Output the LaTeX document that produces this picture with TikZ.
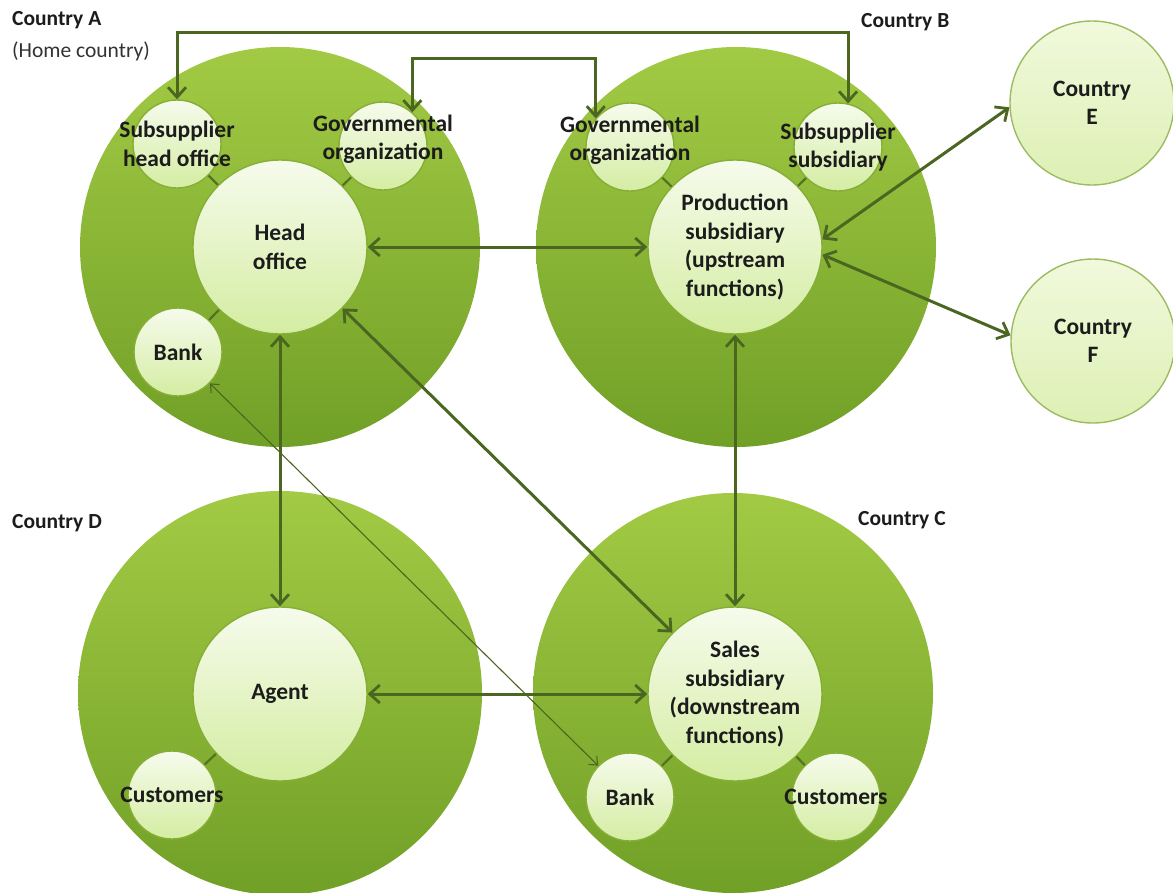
\documentclass[tikz,border=0pt]{standalone}
\usepackage{fontspec}
\setmainfont{Carlito}
\usetikzlibrary{arrows.meta}
\definecolor{bigtop}{HTML}{A2CA44}
\definecolor{bigbot}{HTML}{71A027}
\definecolor{intop}{HTML}{F6FBEC}
\definecolor{inbot}{HTML}{D4EDA2}
\definecolor{inborder}{HTML}{86AE36}
\definecolor{arrowc}{HTML}{4B6621}
\definecolor{txtc}{HTML}{1C1C1C}
\definecolor{outtop}{HTML}{F1F9DC}
\definecolor{outbot}{HTML}{DDF0B4}
\definecolor{outborder}{HTML}{9DBB62}
\tikzset{
  x=1pt, y=-1pt,
  country/.style={circle, inner sep=0pt, top color=bigtop, bottom color=bigbot, draw=none},
  inner/.style={circle, inner sep=0pt, top color=intop, bottom color=inbot, draw=inborder, line width=1.4pt},
  outer/.style={circle, inner sep=0pt, top color=outtop, bottom color=outbot, draw=outborder, line width=1.4pt},
  txt/.style={align=center, text=txtc, font=\bfseries\fontsize{23.5}{28.5}\selectfont},
  ctry/.style={anchor=west, text=txtc, font=\bfseries\fontsize{21.5}{25}\selectfont, inner sep=0pt},
  arr/.style={draw=arrowc, line width=3pt, {Straight Barb[length=10pt,width=18pt,line width=2.8pt]}-{Straight Barb[length=10pt,width=18pt,line width=2.8pt]}},
  thin/.style={draw=arrowc, line width=1.1pt, {Straight Barb[length=7pt,width=12pt,line width=1.1pt]}-{Straight Barb[length=7pt,width=12pt,line width=1.1pt]}},
  tick/.style={draw=arrowc!80!bigbot, line width=2.2pt},
}
\begin{document}
\begin{tikzpicture}
\useasboundingbox[fill=white] (0,0) rectangle (1173,892);
% country circles
\node[country, minimum size=400pt] (cA) at (280,247) {};
\node[country, minimum size=400pt] (cB) at (736,247) {};
\node[country, minimum size=404pt] (cD) at (280,693) {};
\node[country, minimum size=400pt] (cC) at (733,693) {};
% labels
\node[ctry] (lA) at (12,20) {Country A};
\node[ctry, font=\fontsize{21.5}{25}\selectfont, text=black!80] (lAh) at (12,51) {(Home country)};
\node[ctry] (lB) at (861,22) {Country B};
\node[ctry] (lD) at (12,523) {Country D};
\node[ctry] (lC) at (858,520) {Country C};
% inner circles A
\node[inner, minimum size=174pt] (ho) at (280,247) {};
\node[inner, minimum size=88pt] (sho) at (177,144) {};
\node[inner, minimum size=88pt] (gova) at (383,146) {};
\node[inner, minimum size=88pt] (banka) at (178,352) {};
% inner circles B
\node[inner, minimum size=174pt] (ps) at (735,247) {};
\node[inner, minimum size=88pt] (govb) at (630,147) {};
\node[inner, minimum size=88pt] (ssub) at (838,147) {};
% inner circles D
\node[inner, minimum size=174pt] (ag) at (280,694) {};
\node[inner, minimum size=88pt] (cusd) at (172,795) {};
% inner circles C
\node[inner, minimum size=174pt] (ss) at (735,694) {};
\node[inner, minimum size=88pt] (bankc) at (630,797) {};
\node[inner, minimum size=88pt] (cusc) at (836,797) {};
% countries E, F
\node[outer, minimum size=164pt] (cE) at (1092,103) {};
\node[outer, minimum size=164pt] (cF) at (1093,341) {};
% ticks
\draw[tick] (sho) -- (ho);
\draw[tick] (gova) -- (ho);
\draw[tick] (banka) -- (ho);
\draw[tick] (govb) -- (ps);
\draw[tick] (ssub) -- (ps);
\draw[tick] (cusd) -- (ag);
\draw[tick] (bankc) -- (ss);
\draw[tick] (cusc) -- (ss);
% texts
\node[txt] (tho) at (ho) {Head\\office};
\node[txt] (tsho) at (sho) {Subsupplier\\head office};
\node[txt] (tgova) at (383,139) {Governmental\\organization};
\node[txt] (tbanka) at (banka) {Bank};
\node[txt] (tps) at (ps) {Production\\subsidiary\\(upstream\\functions)};
\node[txt] (tgovb) at (630,140) {Governmental\\organization};
\node[txt] (tssub) at (ssub) {Subsupplier\\subsidiary};
\node[txt] (tag) at (ag) {Agent};
\node[txt] (tcusd) at (cusd) {Customers};
\node[txt] (tss) at (ss) {Sales\\subsidiary\\(downstream\\functions)};
\node[txt] (tbankc) at (bankc) {Bank};
\node[txt] (tcusc) at (cusc) {Customers};
\node[txt] (tcE) at (cE) {Country\\E};
\node[txt] (tcF) at (cF) {Country\\F};
% bracket connectors
\coordinate (top1) at (0,32);
\coordinate (top2) at (0,58);
\draw[arr] (sho.north) -- (sho.north |- top1) -- (ssub.77 |- top1) -- (ssub.77);
\draw[arr] (gova.49) -- (gova.49 |- top2) -- (govb.140 |- top2) -- (govb.140);
% main connectors
\draw[arr] (ho) -- (ps);
\draw[arr] (ho) -- (ag);
\draw[arr] (ho) -- (ss);
\draw[arr] (ps) -- (ss);
\draw[arr] (ag) -- (ss);
\draw[thin] (banka) -- (bankc);
\draw[arr] (ps.5) -- (cE.183);
\draw[arr] (ps.-5) -- (cF.176);
\end{tikzpicture}
\end{document}
